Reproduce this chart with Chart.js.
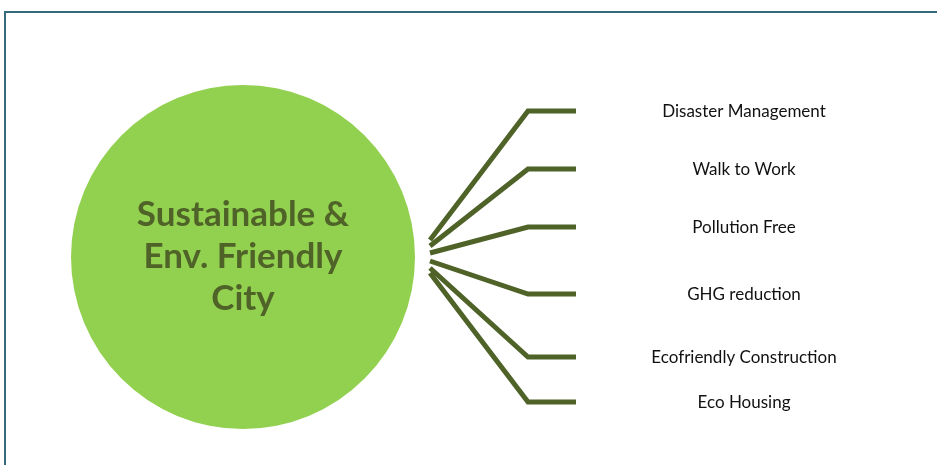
<!DOCTYPE html>
<html>
<head>
<meta charset="utf-8">
<script src="https://cdn.jsdelivr.net/npm/chart.js@4"></script>
<style>
html,body{margin:0;padding:0;background:#fff;overflow:hidden}
#wrap{position:relative;width:937px;height:465px}
#frame{position:absolute;left:4px;top:11px;width:1000px;height:1000px;border:2px solid #336b7c;box-sizing:border-box}
canvas{position:absolute;left:0;top:0}
</style>
</head>
<body>
<div id="wrap">
<div id="frame"></div>
<canvas id="grafico" width="937" height="465"></canvas>
</div>
<script>

// centre topic
let centreText=["Sustainable &","Env. Friendly","City"]
let centre={x:243,y:257,r:172}

// branches
let branchLabels=["Disaster Management","Walk to Work","Pollution Free","GHG reduction","Ecofriendly Construction","Eco Housing"]
let branchStartY=[240,246,253,261,268,273]
let branchEndY=[111,169,227,294,357,402]

let startX=430
let elbowX=528
let endX=576
let labelX=744

let verde="#4f6228"

let datasets=[{
type:'bubble',
data:[centre],
backgroundColor:"#92d050",
borderWidth:0,
hoverRadius:0
}]

branchLabels.forEach((b,i)=>{
datasets.push({
type:'line',
label:b,
data:[{x:startX,y:branchStartY[i]},{x:elbowX,y:branchEndY[i]},{x:endX,y:branchEndY[i]}],
borderColor:verde,
borderWidth:5,
pointRadius:0,
tension:0,
borderCapStyle:'butt',
borderJoinStyle:'miter',
fill:false
})
})

let textos={
id:'textos',
afterDatasetsDraw(c){
let ctx=c.ctx
let x=c.scales.x,y=c.scales.y
ctx.save()
ctx.textAlign="center"
ctx.textBaseline="middle"
ctx.fillStyle=verde
ctx.font="bold 35px Lato"
centreText.forEach((t,i)=>{
ctx.fillText(t,x.getPixelForValue(centre.x),y.getPixelForValue(centre.y-42+i*42))
})
ctx.fillStyle="#111"
ctx.font="17px Lato"
branchLabels.forEach((t,i)=>{
ctx.fillText(t,x.getPixelForValue(labelX),y.getPixelForValue(branchEndY[i]+1))
})
ctx.restore()
}
}

new Chart(document.getElementById("grafico"),{
type:'scatter',
data:{datasets:datasets},
options:{
responsive:false,
animation:false,
events:[],
layout:{padding:0,autoPadding:false},
plugins:{legend:{display:false},tooltip:{enabled:false}},
scales:{
x:{type:'linear',min:0,max:937,display:false},
y:{type:'linear',min:0,max:465,reverse:true,display:false}
}
},
plugins:[textos]
})

</script>
</body>
</html>
